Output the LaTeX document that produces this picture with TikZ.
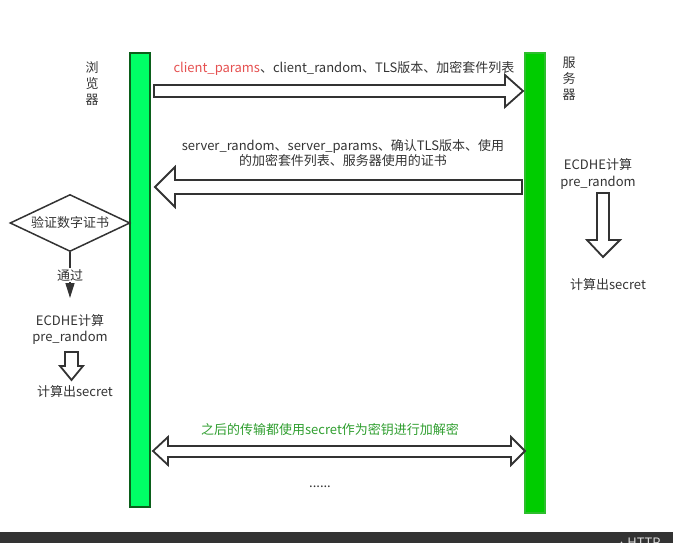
\documentclass[tikz,border=0pt]{standalone}
\usepackage{fontspec}
\setmainfont{Noto Sans CJK SC}
\usetikzlibrary{positioning,arrows.meta,shapes.geometric}
\definecolor{cCli}{HTML}{00FF66}
\definecolor{cCliEdge}{HTML}{0B5E1A}
\definecolor{cSrv}{HTML}{00CC00}
\definecolor{cSrvEdge}{HTML}{2DBE2D}
\definecolor{cInk}{HTML}{333333}
\definecolor{cRed}{HTML}{E55050}
\definecolor{cOk}{HTML}{2F9E2F}
\definecolor{cFoot}{HTML}{333333}

\begin{document}
\begin{tikzpicture}[x=1pt,y=-1pt,font=\fontsize{13}{16}\selectfont,
      lbl/.style={inner sep=0pt,align=center,text=cInk},
      bar/.style={rectangle,minimum width=20pt,inner sep=0pt,line width=1.5pt},
      blk/.style={draw=cInk,line width=1.8pt,fill=white,line join=miter},
      arr/.style={-{Triangle[length=15pt,width=9pt]},cInk,line width=1.5pt}]
    \useasboundingbox (0,0) rectangle (673,543);
    % lifelines
    \node[bar,draw=cCliEdge,fill=cCli,minimum height=454pt] (cli) at (140,280) {};
    \node[bar,draw=cSrvEdge,fill=cSrv,minimum height=460pt] (srv) at (535,283) {};
    \node[lbl] (cliname) at (92,84) {浏\\览\\器};
    \node[lbl] (srvname) at (569,79) {服\\务\\器};
    % client hello
    \node[lbl] (m1) at (344,68)
      {\textcolor{cRed}{client\_params}、client\_random、TLS版本、加密套件列表};
    \draw[blk] (154,85) -- (505,85) -- (505,75) -- (523,91) -- (505,107)
      -- (505,97) -- (154,97) -- cycle;
    % server hello
    \node[lbl,font=\fontsize{13}{15}\selectfont] (m2) at (343,153)
      {server\_random、server\_params、确认TLS版本、使用\\的加密套件列表、服务器使用的证书};
    \draw[blk] (155,187) -- (175,167) -- (175,180) -- (522,180) -- (522,194)
      -- (175,194) -- (175,207) -- cycle;
    % browser side
    \node[diamond,aspect=2.1,draw=cInk,line width=1.5pt,minimum width=120pt,
          minimum height=57pt,inner sep=0pt,text=cInk] (chk) at (70,223) {验证数字证书};
    \coordinate (ok) at (70,298);
    \draw[arr] (chk.south) -- node[fill=white,inner sep=1pt,text=cInk] (pass) {通过} (ok);
    \node[lbl,font=\fontsize{13}{16}\selectfont] (ecdhL) at (70,329) {ECDHE计算\\pre\_random};
    \draw[blk] (65,352) -- (78,352) -- (78,366) -- (83,366) -- (71.5,380)
      -- (60,366) -- (65,366) -- cycle;
    \node[lbl] (secL) at (75,392) {计算出secret};
    % server side
    \node[lbl,font=\fontsize{13}{17}\selectfont] (ecdhR) at (598,174) {ECDHE计算\\pre\_random};
    \draw[blk] (597,193) -- (609,193) -- (609,240) -- (620,240) -- (603,257)
      -- (587,240) -- (597,240) -- cycle;
    \node[lbl] (secR) at (608,285) {计算出secret};
    % encrypted traffic
    \node[lbl,text=cOk] (m3) at (330,430) {之后的传输都使用secret作为密钥进行加解密};
    \draw[blk] (153,451) -- (168,437) -- (168,446) -- (511,446) -- (511,437)
      -- (525,451) -- (511,465) -- (511,457) -- (168,457) -- (168,465) -- cycle;
    \node[lbl] (more) at (320,487) {......};
    % footer strip
    \fill[cFoot] (0,532) rectangle (673,543);
    \node[anchor=base west,inner sep=0pt,text=white!85!black] (foot) at (618,547)
      {{\fontsize{7}{8}\selectfont ▲}\,HTTP};
  \end{tikzpicture}
\end{document}
